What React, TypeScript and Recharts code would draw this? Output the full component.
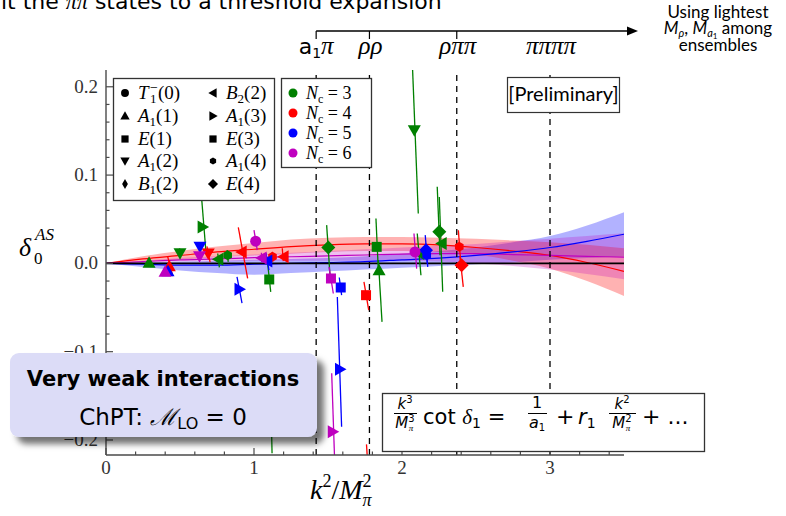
import React from 'react';
import { ComposedChart, XAxis, YAxis, Line, Area, Scatter, ReferenceLine } from 'recharts';

const SERIF = "'Liberation Serif', 'DejaVu Serif', serif";
const SANS = "'DejaVu Sans', sans-serif";
const LATO = "Lato, 'DejaVu Sans', sans-serif";

const GREEN = '#008000';
const RED = '#ff0000';
const BLUE = '#0000ff';
const MAGENTA = '#bf00bf';
const AXIS = '#4a4a4a';

// ---- fit curves (sampled read-off values) ----
const curveX = [0, 0.25, 0.5, 0.75, 1, 1.25, 1.5, 1.75, 2, 2.25, 2.5, 2.75, 3, 3.25, 3.5];
const redFit = [0, 0.005, 0.009, 0.013, 0.016, 0.019, 0.021, 0.022, 0.022, 0.021, 0.018, 0.014, 0.009, 0.001, -0.009];
const redLo = [0, 0.002, 0.004, 0.007, 0.009, 0.011, 0.013, 0.014, 0.014, 0.013, 0.01, 0.003, -0.006, -0.02, -0.037];
const redHi = [0, 0.008, 0.014, 0.019, 0.023, 0.027, 0.029, 0.03, 0.03, 0.029, 0.028, 0.026, 0.024, 0.021, 0.017];
const blueFit = [0, -0.001, -0.002, -0.002, -0.001, 0, 0.001, 0.002, 0.004, 0.006, 0.009, 0.013, 0.018, 0.025, 0.033];
const blueLo = [0, -0.004, -0.008, -0.011, -0.013, -0.011, -0.009, -0.007, -0.005, -0.003, -0.001, 0.001, 0.004, 0.006, 0.008];
const blueHi = [0, 0.001, 0.002, 0.003, 0.004, 0.005, 0.006, 0.008, 0.011, 0.014, 0.018, 0.024, 0.031, 0.043, 0.058];
const magFit = [0, 0.002, 0.004, 0.005, 0.0065, 0.0075, 0.0085, 0.0095, 0.0105, 0.011, 0.011, 0.01, 0.009, 0.008, 0.007];
const magLo = [0, 0.001, 0.002, 0.002, 0.003, 0.003, 0.003, 0.003, 0.003, 0.002, 0, -0.003, -0.007, -0.012, -0.018];
const magHi = [0, 0.003, 0.006, 0.008, 0.01, 0.012, 0.014, 0.016, 0.018, 0.02, 0.022, 0.025, 0.028, 0.031, 0.034];

// ---- thresholds ----
const thresholds = [1.42, 1.78, 2.37, 3.0];
const thresholdLabels = ['a1π', 'ρρ', 'ρππ', 'ππππ'];

// ---- ticks ----
const xTicks = [0, 0.2, 0.4, 0.6, 0.8, 1, 1.2, 1.4, 1.6, 1.8, 2, 2.2, 2.4, 2.6, 2.8, 3, 3.2, 3.4];
const yTicks = [-0.2, -0.18, -0.16, -0.14, -0.12, -0.1, -0.08, -0.06, -0.04, -0.02, 0, 0.02, 0.04, 0.06, 0.08, 0.1, 0.12, 0.14, 0.16, 0.18, 0.2];

// ---- data points: x, y, irrep marker, error segment ends ----
const nc3 = [
  { x: 0.291, y: 0.0006, irrep: 'up', ex1: 0.29, ey1: 0.0046, ex2: 0.292, ey2: -0.0034 },
  { x: 0.5, y: 0.0116, irrep: 'down', ex1: 0.497, ey1: 0.017, ex2: 0.503, ey2: 0.006 },
  { x: 0.653, y: 0.0413, irrep: 'right', ex1: 0.624, ey1: 0.12, ex2: 0.676, ey2: 0.0115 },
  { x: 0.759, y: 0.0048, irrep: 'left', ex1: 0.755, ey1: 0.0112, ex2: 0.766, ey2: -0.0046 },
  { x: 0.822, y: 0.0093, irrep: 'hex', ex1: 0.818, ey1: 0.015, ex2: 0.826, ey2: 0.0017 },
  { x: 1.103, y: -0.0182, irrep: 'square', ex1: 1.092, ey1: 0.0002, ex2: 1.113, ey2: -0.0322 },
  { x: 1.502, y: 0.018, irrep: 'diamond', ex1: 1.491, ey1: 0.0433, ex2: 1.514, ey2: -0.0153 },
  { x: 1.829, y: 0.0187, irrep: 'square', ex1: 1.824, ey1: 0.0508, ex2: 1.84, ey2: -0.0077 },
  { x: 1.845, y: -0.0077, irrep: 'up', ex1: 1.84, ey1: 0.0036, ex2: 1.865, ey2: -0.0662 },
  { x: 2.083, y: 0.1508, irrep: 'down', ex1: 2.062, ey1: 0.26, ex2: 2.11, ey2: 0.0565 },
  { x: 2.117, y: 0.0112, irrep: 'left', ex1: 2.103, ey1: 0.0338, ex2: 2.128, ey2: -0.0134 },
  { x: 2.252, y: 0.0357, irrep: 'diamond', ex1: 2.238, ey1: 0.0867, ex2: 2.257, ey2: 0.0093 },
  { x: 2.268, y: 0.0225, irrep: 'left', ex1: 2.252, ey1: 0.0752, ex2: 2.275, ey2: -0.0321 },
];
const nc4 = [
  { x: 0.428, y: -0.0032, irrep: 'up', ex1: 0.417, ey1: 0.0074, ex2: 0.451, ey2: -0.0144 },
  { x: 0.691, y: 0.0112, irrep: 'down', ex1: 0.682, ey1: 0.0194, ex2: 0.703, ey2: 0.0014 },
  { x: 0.917, y: 0.013, irrep: 'left', ex1: 0.894, ey1: 0.0407, ex2: 0.957, ey2: -0.0171 },
  { x: 1.125, y: 0.0074, irrep: 'hex', ex1: 1.123, ey1: 0.013, ex2: 1.127, ey2: 0.002 },
  { x: 1.2, y: 0.0074, irrep: 'left', ex1: 1.191, ey1: 0.0172, ex2: 1.198, ey2: 0.0025 },
  { x: 1.757, y: -0.036, irrep: 'square', ex1: 1.743, ey1: -0.0209, ex2: 1.775, ey2: -0.053 },
  { x: 2.387, y: 0.0187, irrep: 'hex', ex1: 2.381, ey1: 0.0376, ex2: 2.397, ey2: -0.0001 },
  { x: 2.403, y: -0.002, irrep: 'diamond', ex1: 2.392, ey1: 0.0074, ex2: 2.414, ey2: -0.0266 },
];
const nc5 = [
  { x: 0.419, y: -0.0088, irrep: 'up', ex1: 0.417, ey1: -0.004, ex2: 0.421, ey2: -0.013 },
  { x: 0.635, y: 0.0187, irrep: 'down', ex1: 0.632, ey1: 0.024, ex2: 0.638, ey2: 0.013 },
  { x: 0.902, y: -0.0292, irrep: 'right', ex1: 0.885, ey1: -0.0152, ex2: 0.919, ey2: -0.0451 },
  { x: 1.09, y: 0.0028, irrep: 'left', ex1: 1.081, ey1: 0.0115, ex2: 1.101, ey2: -0.0077 },
  { x: 1.586, y: -0.0273, irrep: 'square', ex1: 1.576, ey1: -0.016, ex2: 1.592, ey2: -0.036 },
  { x: 1.581, y: -0.1198, irrep: 'right', ex1: 1.563, ey1: -0.038, ex2: 1.592, ey2: -0.1851 },
  { x: 2.162, y: 0.0149, irrep: 'diamond', ex1: 2.157, ey1: 0.032, ex2: 2.174, ey2: -0.0039 },
  { x: 2.167, y: 0.0093, irrep: 'hex', ex1: 2.165, ey1: 0.02, ex2: 2.17, ey2: 0.0 },
];
const nc6 = [
  { x: 0.399, y: -0.0096, irrep: 'up', ex1: 0.398, ey1: -0.006, ex2: 0.4, ey2: -0.013 },
  { x: 0.632, y: 0.0082, irrep: 'down', ex1: 0.631, ey1: 0.012, ex2: 0.633, ey2: 0.004 },
  { x: 1.011, y: 0.0251, irrep: 'circle', ex1: 1.0, ey1: 0.0376, ex2: 1.022, ey2: 0.015 },
  { x: 1.052, y: 0.0062, irrep: 'left', ex1: 1.05, ey1: 0.012, ex2: 1.054, ey2: 0.001 },
  { x: 1.52, y: -0.0171, irrep: 'square', ex1: 1.507, ey1: -0.004, ex2: 1.536, ey2: -0.0341 },
  { x: 1.532, y: -0.1908, irrep: 'right', ex1: 1.525, ey1: -0.1245, ex2: 1.547, ey2: -0.234 },
  { x: 2.088, y: 0.013, irrep: 'circle', ex1: 2.081, ey1: 0.0338, ex2: 2.099, ey2: -0.0059 },
];
// error bars whose points fall outside the plotted range
const nc3Tails = [{ ex1: 1.115, ey1: -0.16, ex2: 1.122, ey2: -0.215 }];
const nc4Tails = [{ ex1: 1.76, ey1: -0.205, ex2: 1.772, ey2: -0.235 }];

const series = [
  { name: '3', color: GREEN, pts: nc3, tails: nc3Tails },
  { name: '4', color: RED, pts: nc4, tails: nc4Tails },
  { name: '5', color: BLUE, pts: nc5, tails: [] as any[] },
  { name: '6', color: MAGENTA, pts: nc6, tails: [] as any[] },
];

const legendLeft = [
  { kind: 'circle', main: 'T', sub: '1', sup: '−', arg: '(0)' },
  { kind: 'up', main: 'A', sub: '1', arg: '(1)' },
  { kind: 'square', main: 'E', arg: '(1)' },
  { kind: 'down', main: 'A', sub: '1', arg: '(2)' },
  { kind: 'thin', main: 'B', sub: '1', arg: '(2)' },
];
const legendRight = [
  { kind: 'left', main: 'B', sub: '2', arg: '(2)' },
  { kind: 'right', main: 'A', sub: '1', arg: '(3)' },
  { kind: 'square', main: 'E', arg: '(3)' },
  { kind: 'hex', main: 'A', sub: '1', arg: '(4)' },
  { kind: 'diamond', main: 'E', arg: '(4)' },
];

const PLOT_L = 106;
const PLOT_W = 518;
const X_MAX = 3.5;
const toPx = (v: number) => PLOT_L + (v / X_MAX) * PLOT_W;

function Marker({ kind, cx, cy, color, s = 1 }: any) {
  const a = 6.5 * s;
  const b = 5 * s;
  switch (kind) {
    case 'circle':
      return <circle cx={cx} cy={cy} r={5.5 * s} fill={color} />;
    case 'hex': {
      const r = 5 * s;
      const pts = [0, 1, 2, 3, 4, 5]
        .map((i) => {
          const ang = (Math.PI / 3) * i + Math.PI / 6;
          return `${cx + r * Math.cos(ang)},${cy + r * Math.sin(ang)}`;
        })
        .join(' ');
      return <polygon points={pts} fill={color} />;
    }
    case 'up':
      return <polygon points={`${cx},${cy - a} ${cx - a},${cy + b} ${cx + a},${cy + b}`} fill={color} />;
    case 'down':
      return <polygon points={`${cx},${cy + a} ${cx - a},${cy - b} ${cx + a},${cy - b}`} fill={color} />;
    case 'left':
      return <polygon points={`${cx - a},${cy} ${cx + b},${cy - a} ${cx + b},${cy + a}`} fill={color} />;
    case 'right':
      return <polygon points={`${cx + a},${cy} ${cx - b},${cy - a} ${cx - b},${cy + a}`} fill={color} />;
    case 'square':
      return <rect x={cx - 5 * s} y={cy - 5 * s} width={10 * s} height={10 * s} fill={color} />;
    case 'diamond': {
      const d = 7 * s;
      return <polygon points={`${cx},${cy - d} ${cx + d},${cy} ${cx},${cy + d} ${cx - d},${cy}`} fill={color} />;
    }
    case 'thin': {
      const d = 7 * s;
      const w = 4 * s;
      return <polygon points={`${cx},${cy - d} ${cx + w},${cy} ${cx},${cy + d} ${cx - w},${cy}`} fill={color} />;
    }
    default:
      return null;
  }
}

const isMajor = (v: number, step: number) => Math.abs(v / step - Math.round(v / step)) < 1e-6;
const fmtY = (v: number) => {
  if (Math.abs(v) < 1e-9) return '0.0';
  const s = Math.abs(v).toFixed(1);
  return v < 0 ? '−' + s : s;
};

const BottomTick = (p: any) => {
  const v = p.payload.value;
  const major = isMajor(v, 1);
  return (
    <g>
      <line x1={p.x} x2={p.x} y1={p.y} y2={p.y - (major ? 7 : 3.5)} stroke={AXIS} strokeWidth={1.2} />
      {major && (
        <text x={p.x} y={p.y + 19} textAnchor="middle" fontFamily={SERIF} fontSize={19} fill="#333">
          {String(Math.round(v))}
        </text>
      )}
    </g>
  );
};
const TopTick = (p: any) => {
  const v = p.payload.value;
  const major = isMajor(v, 1);
  return <line x1={p.x} x2={p.x} y1={p.y} y2={p.y + (major ? 7 : 3.5)} stroke={AXIS} strokeWidth={1.2} />;
};
const LeftTick = (p: any) => {
  const v = p.payload.value;
  const major = isMajor(v, 0.1);
  return (
    <g>
      <line x1={p.x} x2={p.x + (major ? 7 : 3.5)} y1={p.y} y2={p.y} stroke={AXIS} strokeWidth={1.2} />
      {major && (
        <text x={p.x - 8} y={p.y + 6} textAnchor="end" fontFamily={SERIF} fontSize={19} fill="#333">
          {fmtY(v)}
        </text>
      )}
    </g>
  );
};
const RightTick = (p: any) => {
  const v = p.payload.value;
  const major = isMajor(v, 0.1);
  return <line x1={p.x} x2={p.x - (major ? 7 : 3.5)} y1={p.y} y2={p.y} stroke={AXIS} strokeWidth={1.2} />;
};

function LegendLabel({ x, y, item }: any) {
  if (item.sup) {
    return (
      <g fontFamily={SERIF} fill="#000">
        <text x={x} y={y} fontSize={19} fontStyle="italic">{item.main}</text>
        <text x={x + 12} y={y + 4} fontSize={13}>{item.sub}</text>
        <text x={x + 12} y={y - 7} fontSize={14}>{item.sup}</text>
        <text x={x + 20} y={y} fontSize={19}>{item.arg}</text>
      </g>
    );
  }
  return (
    <text x={x} y={y} fontFamily={SERIF} fontSize={19} fill="#000">
      <tspan fontStyle="italic">{item.main}</tspan>
      {item.sub && (
        <tspan fontSize={13} dy={4}>
          {item.sub}
        </tspan>
      )}
      <tspan dy={item.sub ? -4 : 0}>{item.arg}</tspan>
    </text>
  );
}

function Overlay() {
  const rowY = [93, 116, 139, 161, 184];
  const ncRowY = [93, 113, 133, 153];
  return (
    <svg width={786} height={516} style={{ position: 'absolute', left: 0, top: 0 }}>
      <defs>
        <filter id="shadow" x="-10%" y="-10%" width="130%" height="140%">
          <feDropShadow dx="7" dy="7" stdDeviation="3" floodColor="#000" floodOpacity="0.55" />
        </filter>
      </defs>

      {/* cut-off slide text at the top */}
      <text x={1} y={9} fontFamily={SANS} fontSize={22} fill="#000">
        it the <tspan fontFamily={SERIF} fontStyle="italic">ππ</tspan> states to a threshold expansion
      </text>

      {/* threshold arrow */}
      <line x1={toPx(thresholds[0])} x2={630} y1={31} y2={31} stroke="#000" strokeWidth={1.4} />
      <polygon points="638,31 627,26.5 627,35.5" fill="#000" />
      {thresholds.slice(0, 3).map((t) => (
        <line key={t} x1={toPx(t)} x2={toPx(t)} y1={31} y2={39} stroke="#000" strokeWidth={1.2} />
      ))}
      <text x={toPx(thresholds[0])} y={54} textAnchor="middle" fontSize={22} fill="#000">
        <tspan fontFamily={SANS}>a</tspan>
        <tspan fontFamily={SANS} fontSize={14} dy={4}>1</tspan>
        <tspan fontFamily={SERIF} fontStyle="italic" fontSize={25} dy={-4}>π</tspan>
      </text>
      {thresholdLabels.slice(1).map((lab, i) => (
        <text key={lab} x={toPx(thresholds[i + 1]) + 1} y={54} textAnchor="middle" fontFamily={SERIF} fontStyle="italic" fontSize={25} fill="#000">
          {lab}
        </text>
      ))}
      <text x={718} y={18} textAnchor="middle" fontFamily={LATO} fontSize={17} fill="#000">Using lightest</text>
      <text x={718} y={34} textAnchor="middle" fontFamily={LATO} fontSize={17} fill="#000">
        <tspan fontStyle="italic">M</tspan>
        <tspan fontSize={11} dy={3} fontStyle="italic">ρ</tspan>
        <tspan dy={-3}>, </tspan>
        <tspan fontStyle="italic">M</tspan>
        <tspan fontSize={11} dy={3} fontStyle="italic">a</tspan>
        <tspan fontSize={8} dy={2}>1</tspan>
        <tspan dy={-5}> among</tspan>
      </text>
      <text x={718} y={51} textAnchor="middle" fontFamily={LATO} fontSize={17} fill="#000">ensembles</text>

      {/* irrep legend */}
      <rect x={113.5} y={78.5} width={161} height={122} fill="#fff" stroke="#333" strokeWidth={1.3} />
      {legendLeft.map((it, i) => (
        <g key={'l' + i}>
          <Marker kind={it.kind} cx={125} cy={rowY[i]} color="#000" s={0.72} />
          <LegendLabel x={138} y={rowY[i] + 6} item={it} />
        </g>
      ))}
      {legendRight.map((it, i) => (
        <g key={'r' + i}>
          <Marker kind={it.kind} cx={213} cy={rowY[i]} color="#000" s={0.72} />
          <LegendLabel x={226} y={rowY[i] + 6} item={it} />
        </g>
      ))}

      {/* Nc legend */}
      <rect x={281.5} y={78.5} width={90} height={89} fill="#fff" stroke="#333" strokeWidth={1.3} />
      {series.map((s, i) => (
        <g key={s.name}>
          <circle cx={293} cy={ncRowY[i]} r={4.5} fill={s.color} />
          <text x={306} y={ncRowY[i] + 6} fontFamily={SERIF} fontSize={18} fill="#000">
            <tspan fontStyle="italic">N</tspan>
            <tspan fontSize={12} dy={4}>c</tspan>
            <tspan dy={-4}> = {s.name}</tspan>
          </text>
        </g>
      ))}

      {/* Preliminary tag */}
      <rect x={507.5} y={77.5} width={112} height={35} fill="#fff" stroke="#333" strokeWidth={1.2} />
      <text x={563.5} y={101} textAnchor="middle" fontFamily={LATO} fontSize={20} fill="#000">[Preliminary]</text>

      {/* weak interactions box */}
      <rect x={10} y={353} width={307} height={84} rx={9} fill="#dcdcf7" filter="url(#shadow)" />
      <text x={163} y={386} textAnchor="middle" fontFamily={SANS} fontWeight="bold" fontSize={21} fill="#000">Very weak interactions</text>
      <text x={163} y={425} textAnchor="middle" fontFamily={SANS} fontSize={23} fill="#000">
        ChPT: <tspan fontFamily={SERIF} fontStyle="italic">ℳ</tspan>
        <tspan fontSize={16} dy={4}>LO</tspan>
        <tspan dy={-4}> = 0</tspan>
      </text>

      {/* formula box */}
      <rect x={382.5} y={393.5} width={322} height={58} fill="#fff" stroke="#333" strokeWidth={1.3} />
      <g fontFamily={SANS} fill="#000">
        <text x={405} y={409} textAnchor="middle" fontSize={15}>
          <tspan fontStyle="italic">k</tspan>
          <tspan fontSize={10} dy={-6}>3</tspan>
        </text>
        <line x1={394} x2={417} y1={413.5} y2={413.5} stroke="#000" strokeWidth={1} />
        <text x={405} y={428} textAnchor="middle" fontSize={15}>
          <tspan fontStyle="italic">M</tspan>
          <tspan fontSize={10} dy={-6}>3</tspan>
          <tspan fontSize={9} dx={-6} dy={9} fontFamily={SERIF} fontStyle="italic">π</tspan>
        </text>
        <text x={423} y={424} fontSize={21}>
          cot <tspan fontFamily={SERIF} fontStyle="italic">δ</tspan>
          <tspan fontSize={14} dy={4}>1</tspan>
          <tspan dy={-4}> = </tspan>
        </text>
        <text x={537} y={408} textAnchor="middle" fontSize={16}>1</text>
        <line x1={528} x2={547} y1={413.5} y2={413.5} stroke="#000" strokeWidth={1} />
        <text x={537} y={428} textAnchor="middle" fontSize={16}>
          <tspan fontStyle="italic">a</tspan>
          <tspan fontSize={10} dy={3}>1</tspan>
        </text>
        <text x={556} y={424} fontSize={22}>+</text>
        <text x={578} y={424} fontSize={21}>
          <tspan fontStyle="italic">r</tspan>
          <tspan fontSize={14} dy={4}>1</tspan>
        </text>
        <text x={622} y={409} textAnchor="middle" fontSize={15}>
          <tspan fontStyle="italic">k</tspan>
          <tspan fontSize={10} dy={-6}>2</tspan>
        </text>
        <line x1={609} x2={636} y1={413.5} y2={413.5} stroke="#000" strokeWidth={1} />
        <text x={622} y={428} textAnchor="middle" fontSize={15}>
          <tspan fontStyle="italic">M</tspan>
          <tspan fontSize={10} dy={-6}>2</tspan>
          <tspan fontSize={9} dx={-6} dy={9} fontFamily={SERIF} fontStyle="italic">π</tspan>
        </text>
        <text x={642} y={424} fontSize={22}>+ ...</text>
      </g>

      {/* axis titles */}
      <text x={19} y={256} fontFamily={SERIF} fontStyle="italic" fontSize={26} fill="#000">δ</text>
      <text x={35} y={240} fontFamily={SERIF} fontStyle="italic" fontSize={17} fill="#000">AS</text>
      <text x={34} y={264} fontFamily={SERIF} fontSize={17} fill="#000">0</text>
      <text x={310} y={499} fontFamily={SERIF} fontSize={28} fill="#000">
        <tspan fontStyle="italic">k</tspan>
        <tspan fontSize={18} dy={-12}>2</tspan>
        <tspan dy={12}>/</tspan>
        <tspan fontStyle="italic">M</tspan>
        <tspan fontSize={18} dy={-12}>2</tspan>
        <tspan fontSize={18} fontStyle="italic" dx={-9} dy={19}>π</tspan>
      </text>
    </svg>
  );
}

export default function App() {
  const rows = curveX.map((x, i) => ({
    x,
    red: redFit[i],
    redBand: [redLo[i], redHi[i]],
    blue: blueFit[i],
    blueBand: [blueLo[i], blueHi[i]],
    mag: magFit[i],
    magBand: [magLo[i], magHi[i]],
  }));
  const yDomain = [-0.217, 0.219];
  return (
    <div style={{ position: 'absolute', left: 0, top: 0, width: 786, height: 516, background: '#fff', overflow: 'hidden' }}>
      <ComposedChart width={786} height={516} data={rows} margin={{ top: 70, right: 162, bottom: 31, left: 0 }}>
        <XAxis
          dataKey="x"
          type="number"
          domain={[0, X_MAX]}
          ticks={xTicks}
          interval={0}
          tickSize={0}
          tickMargin={0}
          height={30}
          allowDataOverflow
          axisLine={{ stroke: AXIS, strokeWidth: 1.4 }}
          tick={(p: any) => <BottomTick {...p} />}
        />
        <XAxis
          xAxisId="top"
          dataKey="x"
          type="number"
          orientation="top"
          domain={[0, X_MAX]}
          ticks={xTicks}
          interval={0}
          tickSize={0}
          tickMargin={0}
          height={0}
          allowDataOverflow
          axisLine={{ stroke: AXIS, strokeWidth: 1.4 }}
          tick={(p: any) => <TopTick {...p} />}
        />
        <YAxis
          type="number"
          domain={yDomain}
          ticks={yTicks}
          interval={0}
          tickSize={0}
          tickMargin={0}
          width={106}
          allowDataOverflow
          axisLine={{ stroke: AXIS, strokeWidth: 1.4 }}
          tick={(p: any) => <LeftTick {...p} />}
        />
        <YAxis
          yAxisId="right"
          orientation="right"
          type="number"
          domain={yDomain}
          ticks={yTicks}
          interval={0}
          tickSize={0}
          tickMargin={0}
          width={0}
          allowDataOverflow
          axisLine={{ stroke: AXIS, strokeWidth: 1.4 }}
          tick={(p: any) => <RightTick {...p} />}
        />

        <Area dataKey="blueBand" type="monotone" stroke="none" fill={BLUE} fillOpacity={0.3} isAnimationActive={false} />
        <Area dataKey="redBand" type="monotone" stroke="none" fill={RED} fillOpacity={0.3} isAnimationActive={false} />
        <Area dataKey="magBand" type="monotone" stroke="none" fill={MAGENTA} fillOpacity={0.25} isAnimationActive={false} />
        <Line dataKey="red" type="monotone" stroke={RED} strokeWidth={1.2} dot={false} isAnimationActive={false} />
        <Line dataKey="mag" type="monotone" stroke={MAGENTA} strokeWidth={1.2} dot={false} isAnimationActive={false} />
        <Line dataKey="blue" type="monotone" stroke={BLUE} strokeWidth={1.2} dot={false} isAnimationActive={false} />
        <ReferenceLine y={0} stroke="#000" strokeWidth={1.6} />

        {thresholds.map((t) => (
          <ReferenceLine key={'th' + t} x={t} stroke="#000" strokeWidth={1.3} strokeDasharray="6 5" />
        ))}

        {series.map((s) =>
          [...s.pts, ...s.tails].map((p: any, i: number) => (
            <ReferenceLine
              key={s.name + 'e' + i}
              segment={[
                { x: p.ex1, y: p.ey1 },
                { x: p.ex2, y: p.ey2 },
              ]}
              stroke={s.color}
              strokeWidth={1.3}
              ifOverflow="hidden"
            />
          ))
        )}

        {series.map((s) => (
          <Scatter
            key={'sc' + s.name}
            data={s.pts}
            dataKey="y"
            isAnimationActive={false}
            shape={(p: any) => <Marker kind={p.payload.irrep} cx={p.cx} cy={p.cy} color={s.color} />}
          />
        ))}
      </ComposedChart>
      <Overlay />
    </div>
  );
}
